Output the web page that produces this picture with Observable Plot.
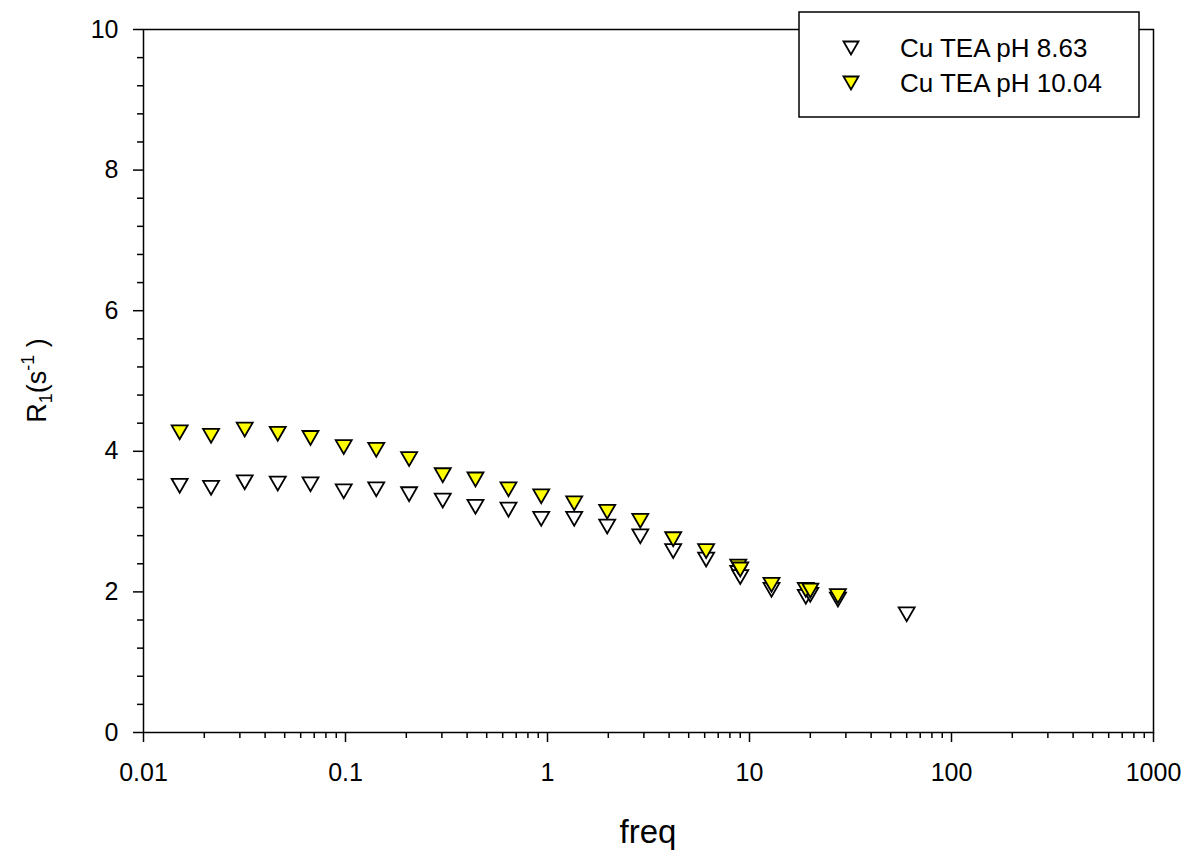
<!DOCTYPE html>
<html>
<head>
<meta charset="utf-8">
<script src="https://cdn.jsdelivr.net/npm/d3@7"></script>
<script src="https://cdn.jsdelivr.net/npm/@observablehq/plot@0.6"></script>
<style>
  html, body { margin: 0; padding: 0; background: #fff; }
  #chart { width: 1190px; height: 855px; }
</style>
</head>
<body>
<div id="chart"></div>
<script>
// ---- data ----
const seriesNames = ["Cu TEA pH 8.63", "Cu TEA pH 10.04"];
const freqLow = [0.0151, 0.0216, 0.0317, 0.0462, 0.0671, 0.098, 0.142, 0.2065, 0.303, 0.44, 0.641, 0.931, 1.356, 1.975, 2.88, 4.19, 6.1, 8.8, 9.0, 12.85, 19.0, 20.0, 27.4, 60];
const r1Low   = [3.51, 3.48, 3.56, 3.54, 3.53, 3.43, 3.46, 3.39, 3.30, 3.21, 3.17, 3.04, 3.04, 2.93, 2.79, 2.58, 2.46, 2.27, 2.21, 2.03, 1.93, 1.96, 1.89, 1.68];
const freqHigh = [0.0151, 0.0216, 0.0317, 0.0462, 0.0671, 0.098, 0.142, 0.2065, 0.303, 0.44, 0.641, 0.931, 1.356, 1.975, 2.88, 4.19, 6.1, 8.8, 9.0, 12.85, 19.0, 20.0, 27.4];
const r1High   = [4.27, 4.22, 4.31, 4.25, 4.19, 4.06, 4.02, 3.89, 3.66, 3.60, 3.46, 3.36, 3.26, 3.14, 3.01, 2.75, 2.58, 2.36, 2.32, 2.10, 2.03, 2.02, 1.94];

const xTicks = [0.01, 0.1, 1, 10, 100, 1000];
const xTickLabels = ["0.01", "0.1", "1", "10", "100", "1000"];
const yTicks = [0, 2, 4, 6, 8, 10];
const yTickLabels = ["0", "2", "4", "6", "8", "10"];
const xMinor = [0.01, 0.1, 1, 10, 100].flatMap(d => [2,3,4,5,6,7,8,9].map(k => +(d * k).toPrecision(3)));
const yMinor = d3.range(0, 10.0001, 0.4).map(v => +v.toFixed(1)).filter(v => v % 2 !== 0);

const lowData = freqLow.map((f, i) => ({freq: f, r1: r1Low[i]}));
const highData = freqHigh.map((f, i) => ({freq: f, r1: r1High[i]}));

// inverted triangle symbol
const triDown = {
  draw(ctx, size) {
    const r = Math.sqrt(size / Math.PI);
    const h = r * Math.sqrt(3);
    ctx.moveTo(-r, -h / 2);
    ctx.lineTo(r, -h / 2);
    ctx.lineTo(0, h / 2);
    ctx.closePath();
  }
};

const W = 1190, H = 855;
const mL = 143, mR = 37, mT = 29, mB = 123;

const plot = Plot.plot({
  width: W,
  height: H,
  marginLeft: mL,
  marginRight: mR,
  marginTop: mT,
  marginBottom: mB,
  style: {fontFamily: "'Liberation Sans', Arial, sans-serif", fontSize: "25px", color: "#000", background: "#fff"},
  x: {type: "log", domain: [0.01, 1000], axis: null},
  y: {domain: [0, 10], axis: null},
  marks: [
    Plot.axisX(xMinor, {tickSize: 6, strokeWidth: 1.5, tickFormat: () => "", label: null}),
    Plot.axisX(xTicks, {tickSize: 10, tickPadding: 21, strokeWidth: 1.5, fontSize: 25, label: null,
      tickFormat: d => xTickLabels[xTicks.indexOf(d)]}),
    Plot.axisY(yMinor, {tickSize: 6, strokeWidth: 1.5, tickFormat: () => "", label: null}),
    Plot.axisY(yTicks, {tickSize: 10, tickPadding: 15, strokeWidth: 1.5, fontSize: 25, label: null,
      tickFormat: d => yTickLabels[yTicks.indexOf(d)]}),
    Plot.frame({stroke: "#000", strokeWidth: 1.5}),
    Plot.dot(lowData, {x: "freq", y: "r1", symbol: triDown, r: 8, fill: "#ffffff", stroke: "#000", strokeWidth: 1.8}),
    Plot.dot(highData, {x: "freq", y: "r1", symbol: triDown, r: 8, fill: "#ffff00", stroke: "#000", strokeWidth: 1.8})
  ]
});

document.getElementById("chart").appendChild(plot);

// ---- titles and legend ----
const svg = d3.select(plot);
const font = "'Liberation Sans', Arial, sans-serif";

// x title
svg.append("text")
  .attr("x", (mL + (W - mR)) / 2).attr("y", 843)
  .attr("text-anchor", "middle")
  .attr("font-family", font).attr("font-size", 33).attr("fill", "#000")
  .text("freq");

// y title
const yt = svg.append("text")
  .attr("transform", `translate(46,${(mT + (H - mB)) / 2}) rotate(-90)`)
  .attr("text-anchor", "middle")
  .attr("font-family", font).attr("font-size", 27).attr("fill", "#000");
yt.append("tspan").text("R");
yt.append("tspan").attr("font-size", 18).attr("dy", 6).text("1");
yt.append("tspan").attr("dy", -6).text("(s");
yt.append("tspan").attr("font-size", 18).attr("dy", -12).text("-1");
yt.append("tspan").attr("dy", 12).text("\u00a0)");

// legend
const lg = svg.append("g");
lg.append("rect").attr("x", 799).attr("y", 12).attr("width", 340).attr("height", 105)
  .attr("fill", "#fff").attr("stroke", "#000").attr("stroke-width", 1.5);
const legendFills = ["#ffffff", "#ffff00"];
const symPath = d3.symbol(triDown, Math.PI * 7.5 * 7.5)();
seriesNames.forEach((name, i) => {
  const cy = 48 + i * 35;
  lg.append("path").attr("d", symPath).attr("transform", `translate(851,${cy})`)
    .attr("fill", legendFills[i]).attr("stroke", "#000").attr("stroke-width", 1.8);
  lg.append("text").attr("x", 900).attr("y", cy + 9)
    .attr("text-anchor", "start")
    .attr("font-family", font).attr("font-size", 26).attr("fill", "#000")
    .text(name);
});
</script>
</body>
</html>
